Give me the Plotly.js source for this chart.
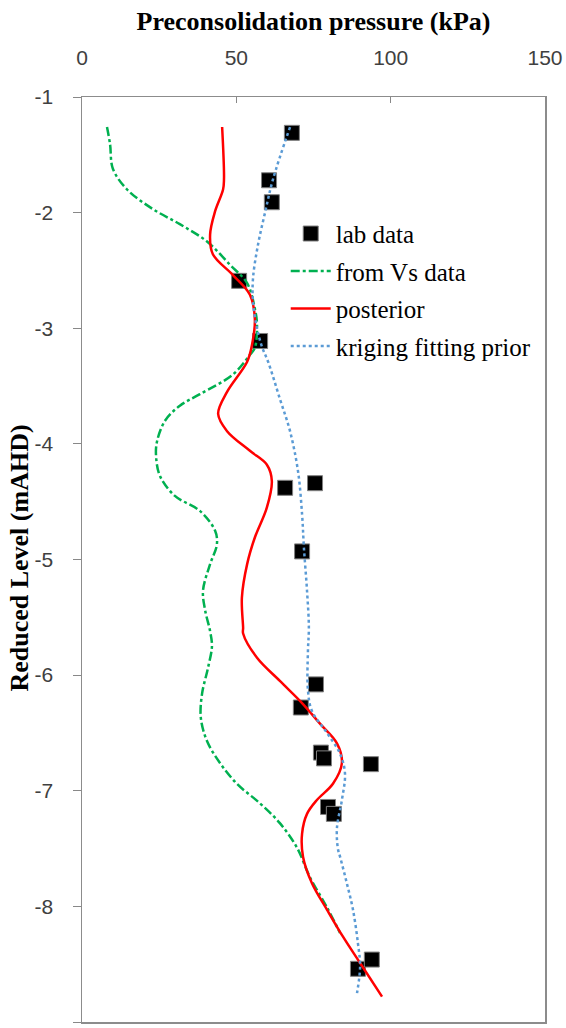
<!DOCTYPE html>
<html>
<head>
<meta charset="utf-8">
<script src="https://cdn.plot.ly/plotly-3.0.1.min.js"></script>
<style>html,body{margin:0;padding:0;background:#fff;}#chart{width:566px;height:1028px;}</style>
</head>
<body>
<div id="chart"></div>
<script>
// lab data
const labX = [68.0, 60.6, 61.5, 50.9, 57.7, 75.5, 65.8, 71.3, 75.8, 70.9, 77.4, 78.4, 93.6, 79.7, 81.6, 89.4, 93.9];
const labY = [-1.31, -1.72, -1.91, -2.59, -3.11, -4.34, -4.38, -4.93, -6.08, -6.28, -6.67, -6.72, -6.77, -7.14, -7.20, -8.54, -8.46];

// from Vs data
const vsX = [8.1, 9.1, 10.0, 14.6, 23.0, 31.7, 40.5, 47.9, 53.5, 56.0, 56.7, 56.0, 54.4, 48.9, 38.2, 31.7, 26.9, 24.3, 24.0, 25.3, 30.1, 38.2, 43.1, 43.7, 41.5, 39.2, 39.9, 41.5, 42.1, 40.8, 38.9, 38.5, 40.5, 44.7, 50.2, 57.7, 64.1, 69.6, 73.9, 79.4, 83.6];
const vsY = [-1.26, -1.41, -1.62, -1.80, -1.97, -2.10, -2.25, -2.45, -2.61, -2.83, -2.97, -3.17, -3.23, -3.40, -3.57, -3.67, -3.80, -3.98, -4.11, -4.28, -4.45, -4.58, -4.75, -4.87, -5.04, -5.27, -5.44, -5.62, -5.75, -5.94, -6.16, -6.37, -6.57, -6.76, -6.94, -7.11, -7.28, -7.49, -7.75, -8.01, -8.23];

// posterior
const postX = [45.4, 46.0, 45.7, 43.1, 41.5, 42.4, 48.9, 54.4, 56.0, 55.1, 53.5, 47.0, 44.1, 47.0, 54.4, 59.9, 61.5, 59.9, 56.0, 53.5, 51.8, 52.2, 52.2, 56.7, 64.1, 71.6, 77.1, 82.6, 84.2, 81.3, 76.1, 72.9, 71.3, 71.6, 74.5, 79.4, 84.5, 90.1, 97.2];
const postY = [-1.26, -1.71, -1.80, -1.99, -2.19, -2.36, -2.54, -2.71, -2.92, -3.14, -3.29, -3.55, -3.74, -3.89, -4.06, -4.18, -4.32, -4.55, -4.81, -5.04, -5.33, -5.59, -5.64, -5.85, -6.05, -6.25, -6.42, -6.59, -6.76, -6.94, -7.08, -7.20, -7.37, -7.57, -7.80, -8.03, -8.26, -8.49, -8.78];

// kriging fitting prior
const krigX = [67.4, 61.9, 59.3, 57.0, 55.4, 55.4, 56.7, 58.3, 60.3, 64.1, 67.4, 70.0, 71.3, 71.9, 72.9, 73.5, 73.2, 73.2, 74.5, 79.4, 83.6, 85.2, 84.2, 82.6, 82.9, 83.6, 85.8, 87.8, 89.4, 90.1, 89.1];
const krigY = [-1.26, -1.71, -2.00, -2.28, -2.57, -2.77, -3.00, -3.16, -3.29, -3.61, -3.89, -4.24, -4.61, -4.90, -5.27, -5.59, -5.79, -6.13, -6.31, -6.50, -6.68, -6.85, -7.08, -7.32, -7.50, -7.57, -7.80, -8.03, -8.32, -8.52, -8.75];

const xTicks = [0, 50, 100, 150];
const yTicks = [-1, -2, -3, -4, -5, -6, -7, -8, -9];

const serif = "Liberation Serif, Times New Roman, serif";
const sans = "Liberation Sans, Arial, sans-serif";

const data = [
  {x: labX, y: labY, type: 'scatter', mode: 'markers', name: 'lab data', legendgroup: 'a',
   marker: {symbol: 'square', size: 15, color: '#000000', line: {color: '#808080', width: 1}}},
  {x: vsX, y: vsY, type: 'scatter', mode: 'lines', name: 'from Vs data', legendgroup: 'b',
   line: {color: '#00B050', width: 2.5, dash: 'dashdot', shape: 'spline'}},
  {x: postX, y: postY, type: 'scatter', mode: 'lines', name: 'posterior', legendgroup: 'c',
   line: {color: '#FF0000', width: 2.5, shape: 'spline'}},
  {x: krigX, y: krigY, type: 'scatter', mode: 'lines', name: 'kriging fitting prior', legendgroup: 'd',
   line: {color: '#5B9BD5', width: 2.5, dash: 'dot', shape: 'spline'}}
];

const layout = {
  width: 566, height: 1028,
  margin: {l: 82, r: 21, t: 97, b: 6},
  paper_bgcolor: '#ffffff', plot_bgcolor: '#ffffff',
  showlegend: true,
  legend: {x: 0.44, y: 0.877, xanchor: 'left', yanchor: 'top', bgcolor: 'rgba(0,0,0,0)',
           font: {family: serif, size: 25, color: '#000'}, itemwidth: 40, tracegroupgap: 2},
  xaxis: {
    side: 'top', range: [0, 150], tickvals: xTicks, ticktext: xTicks.map(String),
    ticks: 'inside', ticklen: 6, tickcolor: '#888', showgrid: false, zeroline: false,
    showline: true, mirror: true, linecolor: '#8c8c8c', linewidth: 1.5,
    tickfont: {family: sans, size: 21, color: '#404040'}, ticklabelstandoff: 22,
    title: {text: '<b>Preconsolidation pressure (kPa)</b>', font: {family: serif, size: 26, color: '#000'}, standoff: 8}
  },
  yaxis: {
    range: [-9, -1], tickvals: yTicks, ticktext: yTicks.map(String),
    ticks: 'outside', ticklen: 8, tickcolor: '#888', showgrid: false, zeroline: false,
    showline: true, mirror: true, linecolor: '#8c8c8c', linewidth: 1.5,
    tickfont: {family: sans, size: 21, color: '#404040'}, ticklabelstandoff: 15
  },
  annotations: [{
    text: '<b>Reduced Level (mAHD)</b>', xref: 'paper', yref: 'paper', x: -0.134, y: 0.502,
    xanchor: 'center', yanchor: 'middle', textangle: -90, showarrow: false,
    font: {family: serif, size: 26, color: '#000'}
  }]
};

Plotly.newPlot('chart', data, layout, {displayModeBar: false, staticPlot: true});
</script>
</body>
</html>
